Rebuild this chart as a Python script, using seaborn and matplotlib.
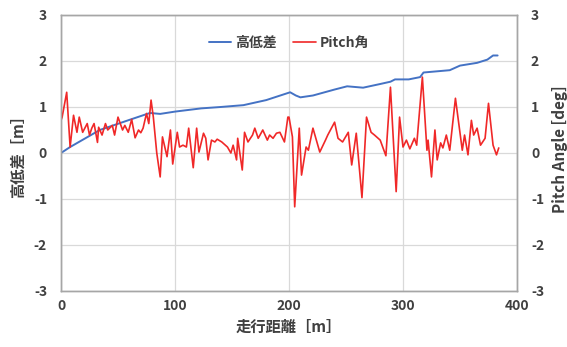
import numpy as np
import pandas as pd
import matplotlib
matplotlib.use('Agg')
import matplotlib.pyplot as plt
import seaborn as sns

# 高低差 (blue)
dist_h = [0, 8, 34, 60, 78, 87, 100, 123, 140, 160, 180, 201, 206, 210, 221, 240, 251,
          265, 280, 289, 293, 305, 315, 318, 341, 350, 365, 374, 379, 383]
height = [0.0, 0.13, 0.5, 0.72, 0.87, 0.85, 0.9, 0.97, 1.0, 1.04, 1.15, 1.32, 1.25, 1.21,
          1.25, 1.38, 1.45, 1.42, 1.5, 1.55, 1.6, 1.6, 1.65, 1.75, 1.8, 1.9, 1.96, 2.03, 2.12, 2.12]

# Pitch角 (red)
dist_p = [0, 1, 5, 8, 11, 14, 16, 19, 23, 25, 27, 29, 32, 33, 36, 39, 41, 45, 47, 50,
          54, 56, 59, 62, 65, 68, 70, 72, 75, 77, 79, 81, 84, 87, 89, 93, 96, 98,
          102, 104, 107, 110, 112, 116, 119, 121, 125, 127, 129, 132, 135, 137, 141,
          146, 149, 151, 154, 155, 159, 161, 164, 168, 170, 173, 177, 181, 183, 186,
          189, 192, 196, 199, 200, 203, 205, 209, 211, 215, 217, 221, 227, 232, 234,
          240, 243, 247, 252, 255, 259, 264, 268, 272, 275, 280, 285, 289, 294, 297,
          300, 303, 306, 310, 312, 317, 321, 322, 325, 328, 330, 333, 335, 338, 341,
          346, 352, 354, 357, 360, 362, 365, 368, 372, 375, 379, 382, 384]
pitch = [0.71, 0.78, 1.32, 0.13, 0.82, 0.45, 0.78, 0.45, 0.64, 0.39, 0.54, 0.64, 0.23,
         0.56, 0.39, 0.64, 0.5, 0.6, 0.39, 0.78, 0.5, 0.6, 0.45, 0.73, 0.33, 0.5, 0.44,
         0.54, 0.86, 0.64, 1.15, 0.78, 0.0, -0.52, 0.35, -0.08, 0.5, -0.24,
         0.45, 0.13, 0.17, 0.13, 0.54, -0.32, 0.54, 0.02, 0.43, 0.32, -0.15, 0.28, 0.24,
         0.3, 0.24, 0.13, 0.0, 0.17, -0.15, 0.32, -0.37, 0.45, 0.24, 0.39, 0.54, 0.32,
         0.5, 0.28, 0.39, 0.32, 0.43, 0.45, 0.24, 0.78, 0.78, 0.35, -1.17, 0.54, -0.48,
         0.13, 0.06, 0.54, 0.02, 0.28, 0.39, 0.67, 0.32, 0.24, 0.45, -0.26, 0.43, -0.97,
         0.78, 0.45, 0.39, 0.28, -0.06, 1.43, -0.84, 0.78, 0.13, 0.28, 0.09, 0.32, 0.17,
         1.65, 0.06, 0.28, -0.52, 0.5, -0.15, 0.22, 0.11, 0.39, 0.06, 1.19, 0.06, 0.39,
         -0.04, 0.71, 0.39, 0.54, 0.17, 0.32, 1.08, 0.17, -0.04, 0.11]

ticks_y = [-3, -2, -1, 0, 1, 2, 3]
ticks_x = [0, 100, 200, 300, 400]

df_h = pd.DataFrame({'dist': dist_h, 'val': height})
df_p = pd.DataFrame({'dist': dist_p, 'val': pitch})

sns.set_style('white')
plt.rcParams['font.family'] = ['Noto Sans CJK JP', 'DejaVu Sans']

fig = plt.figure(figsize=(5.67, 3.47), dpi=100)
ax = fig.add_axes([61 / 567, 1 - 291 / 347, 456 / 567, 276 / 347])
ax2 = ax.twinx()

blue = '#4472C4'
red = '#F02828'
sns.lineplot(data=df_h, x='dist', y='val', ax=ax, color=blue, linewidth=1.4, label='高低差', legend=False)
sns.lineplot(data=df_p, x='dist', y='val', ax=ax2, color=red, linewidth=1.2, label='Pitch角', legend=False)

txt = '#404040'
for a in (ax, ax2):
    a.set_ylim(-3, 3)
    a.set_yticks(ticks_y)
    a.set_yticklabels([str(t) for t in ticks_y], fontsize=10, color=txt, fontweight='bold')
    a.tick_params(length=0, pad=10)
    for s in a.spines.values():
        s.set_color('#A6A6A6')
        s.set_linewidth(1.0)
ax.set_xlim(0, 400)
ax.set_xticks(ticks_x)
ax.set_xticklabels([str(t) for t in ticks_x], fontsize=10, color=txt, fontweight='bold')
ax.tick_params(axis='x', pad=6)
ax.grid(True, color='#D9D9D9', linewidth=0.9)
ax.set_axisbelow(True)

ax.set_xlabel('走行距離［m］', fontsize=11, color=txt, fontweight='bold', labelpad=4)
ax.set_ylabel('高低差［m］', fontsize=11, color=txt, fontweight='bold', labelpad=6)
ax2.set_ylabel('')
fig.text(560 / 567, 1 - 213 / 347, 'Pitch Angle [deg]', rotation=90, ha='center', va='bottom',
         fontsize=11, color=txt, fontweight='bold')

h1, l1 = ax.get_legend_handles_labels()
h2, l2 = ax2.get_legend_handles_labels()
leg = ax2.legend(h1 + h2, l1 + l2, loc='upper center', bbox_to_anchor=(0.5, 0.97), ncol=2,
                 frameon=False, fontsize=10, handlelength=1.6, columnspacing=1.2, handletextpad=0.3)
for t in leg.get_texts():
    t.set_color(txt)
    t.set_fontweight('bold')

fig.savefig('out.png', dpi=100)
